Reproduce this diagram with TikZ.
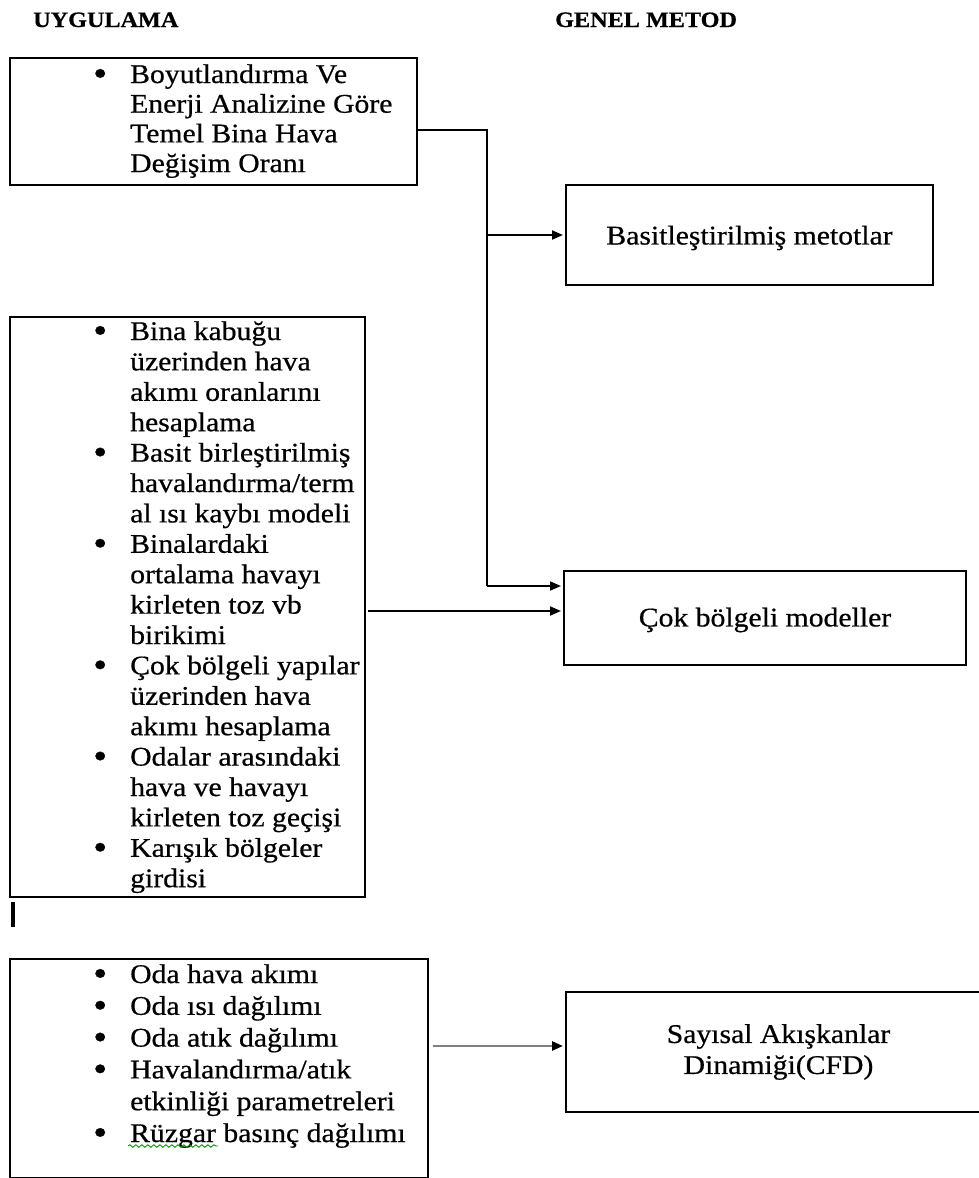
\documentclass[tikz,border=0pt]{standalone}
\usepackage{fontspec}
\setmainfont{Liberation Serif}[FakeStretch=1.1, FakeBold=0.6]
\usetikzlibrary{arrows.meta,decorations.pathmorphing}

% bullet with its hanging indent, and the indent of a continued line
\newcommand{\bpt}{\makebox[35.5pt][l]{\hspace*{-1.5pt}\raisebox{-2.5pt}{\scalebox{1.35}{\textbullet}}}}
\newcommand{\cnt}{\hspace*{35.5pt}}

\tikzset{
  box/.style={draw, line width=2pt, rectangle, inner sep=0pt, anchor=north west},
  conn/.style={line width=1.8pt},
  arr/.style={conn, shorten >=2pt, -{Triangle[length=11pt,width=9pt,color=black]}},
  head/.style={font=\fontsize{22}{26}\selectfont\bfseries, anchor=base west, inner sep=0pt},
  body/.style={anchor=base west, inner sep=0pt},
  label/.style={font=\fontsize{27}{31}\selectfont, align=center, inner sep=0pt},
}

\begin{document}
\begin{tikzpicture}[x=1pt, y=-1pt]
\useasboundingbox[fill=white] (0,0) rectangle (979,1178);

% column headings
\node[head] (h1) at (33,27) {UYGULAMA};
\node[head] (h2) at (555,27) {GENEL METOD};

% application boxes (left)
\node[box, minimum width=407pt, minimum height=127pt] (b1) at (9,57) {};
\node[box, minimum width=355pt, minimum height=580pt] (b2) at (9,316) {};
\node[box, minimum width=418pt, minimum height=219pt] (b3) at (9,958) {};

% method boxes (right)
\node[box, minimum width=367pt, minimum height=100pt] (basit) at (565,184) {};
\node[box, minimum width=402pt, minimum height=94pt] (cok) at (563,570) {};
\node[box, minimum width=425pt, minimum height=120pt] (cfd) at (565,991) {};

% bullet lists
\node[body] (t1) at (94.5,83) {\fontsize{27}{29.7}\selectfont
  \begin{tabular}[t]{@{}l@{}}
  \bpt Boyutlandırma Ve\\
  \cnt Enerji Analizine Göre\\
  \cnt Temel Bina Hava\\
  \cnt Değişim Oranı
  \end{tabular}};

\node[body] (t2) at (94.5,340) {\fontsize{27}{30.4}\selectfont
  \begin{tabular}[t]{@{}l@{}}
  \bpt Bina kabuğu\\
  \cnt üzerinden hava\\
  \cnt akımı oranlarını\\
  \cnt hesaplama\\
  \bpt Basit birleştirilmiş\\
  \cnt havalandırma/term\\
  \cnt al ısı kaybı modeli\\
  \bpt Binalardaki\\
  \cnt ortalama havayı\\
  \cnt kirleten toz vb\\
  \cnt birikimi\\
  \bpt Çok bölgeli yapılar\\
  \cnt üzerinden hava\\
  \cnt akımı hesaplama\\
  \bpt Odalar arasındaki\\
  \cnt hava ve havayı\\
  \cnt kirleten toz geçişi\\
  \bpt Karışık bölgeler\\
  \cnt girdisi
  \end{tabular}};

\node[body] (t3) at (94.5,983) {\fontsize{27}{31.8}\selectfont
  \begin{tabular}[t]{@{}l@{}}
  \bpt Oda hava akımı\\
  \bpt Oda ısı dağılımı\\
  \bpt Oda atık dağılımı\\
  \bpt Havalandırma/atık\\
  \cnt etkinliği parametreleri\\
  \bpt Rüzgar basınç dağılımı
  \end{tabular}};

% spell-check underline and text cursor
\draw[green!55!black, line width=0.8pt, decorate,
      decoration={snake, segment length=6pt, amplitude=1.3pt}] (128,1146) -- (218,1146);
\draw[line width=3.6pt] (12.7,902) -- (12.7,927);

% method labels
\node[label] (l1) at ([yshift=-3pt]basit.center) {Basitleştirilmiş metotlar};
\node[label] (l2) at ([yshift=-2pt]cok.center) {Çok bölgeli modeller};
\node[label] (l3) at (cfd.center) {Sayısal Akışkanlar\\Dinamiği(CFD)};

% connectors
\coordinate (bend) at (487,130);
\coordinate (low) at (487,586);
\coordinate (mid) at (364,611);
\coordinate (bot) at (427,1046);
\draw[conn] (b1.east |- bend) -- (bend) -- (low);
\draw[arr] (low) -- (cok.west |- low);
\draw[arr] (bend |- basit.west) -- (basit.west);
\draw[arr, shorten <=4pt] (mid) -- (cok.west |- mid);
\draw[arr, draw=black!50, line width=2.6pt, shorten <=5.5pt] (bot) -- (cfd.west |- bot);
\end{tikzpicture}
\end{document}
